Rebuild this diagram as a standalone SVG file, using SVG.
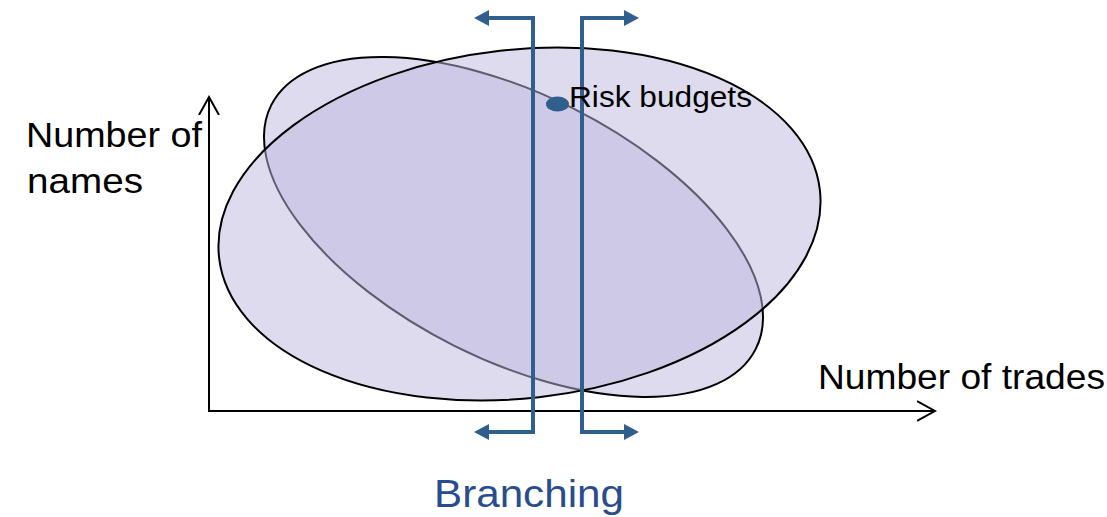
<svg xmlns="http://www.w3.org/2000/svg" width="1107" height="517" viewBox="0 0 1107 517">
  <style>
    .region { fill: #BDB7DD; fill-opacity: 0.5; stroke: #000; stroke-width: 2; }
    .axis { fill: none; stroke: #000; stroke-width: 2; }
    .branch { fill: none; stroke: #305F8D; stroke-width: 4; }
    .label { font-family: "Liberation Sans", Arial, sans-serif; fill: #000; }
    .title { font-family: "Liberation Sans", Arial, sans-serif; fill: #284C8E; }
  </style>
  <defs>
    <marker id="openArrow" markerUnits="userSpaceOnUse" viewBox="0 0 20 22" markerWidth="20" markerHeight="22" refX="18" refY="11" orient="auto-start-reverse">
      <path d="M0 1 L18 11 L0 21" fill="none" stroke="#000" stroke-width="2"/>
    </marker>
    <marker id="solidArrow" markerUnits="userSpaceOnUse" viewBox="0 0 16 16" markerWidth="16" markerHeight="16" refX="1" refY="8" orient="auto-start-reverse">
      <path d="M0 0 L15 8 L0 16 z" fill="#305F8D"/>
    </marker>
  </defs>

  <!-- overlapping regions -->
  <g id="region-a">
    <ellipse class="region" cx="513.5" cy="227" rx="271.2" ry="132.7" transform="rotate(26.7 513.5 227)"/>
  </g>
  <g id="region-b">
    <ellipse class="region" cx="519.5" cy="224" rx="302.3" ry="174.3" transform="rotate(-6.4 519.5 224)"/>
  </g>

  <!-- axes -->
  <g id="axes">
    <path class="axis" d="M209 97 V411 H935" marker-start="url(#openArrow)" marker-end="url(#openArrow)"/>
  </g>

  <!-- branching brackets -->
  <g id="connectors">
    <path class="branch" d="M488 18 H533 V432 H488" marker-start="url(#solidArrow)" marker-end="url(#solidArrow)"/>
    <path class="branch" d="M625 18 H582 V432 H625" marker-start="url(#solidArrow)" marker-end="url(#solidArrow)"/>
  </g>

  <g id="risk-budgets">
    <ellipse cx="557.5" cy="104" rx="11.5" ry="7.5" fill="#305F8D"/>
    <text class="label" x="569" y="107" font-size="30" textLength="183" lengthAdjust="spacingAndGlyphs">Risk budgets</text>
  </g>

  <g id="axis-labels">
    <text class="label" x="26" y="147" font-size="35" textLength="176" lengthAdjust="spacingAndGlyphs">Number of</text>
    <text class="label" x="27" y="193" font-size="35" textLength="116" lengthAdjust="spacingAndGlyphs">names</text>
    <text class="label" x="818" y="389" font-size="35" textLength="287" lengthAdjust="spacingAndGlyphs">Number of trades</text>
  </g>

  <g id="branching-title">
    <text class="title" x="434" y="507" font-size="38" textLength="190" lengthAdjust="spacingAndGlyphs">Branching</text>
  </g>
</svg>
